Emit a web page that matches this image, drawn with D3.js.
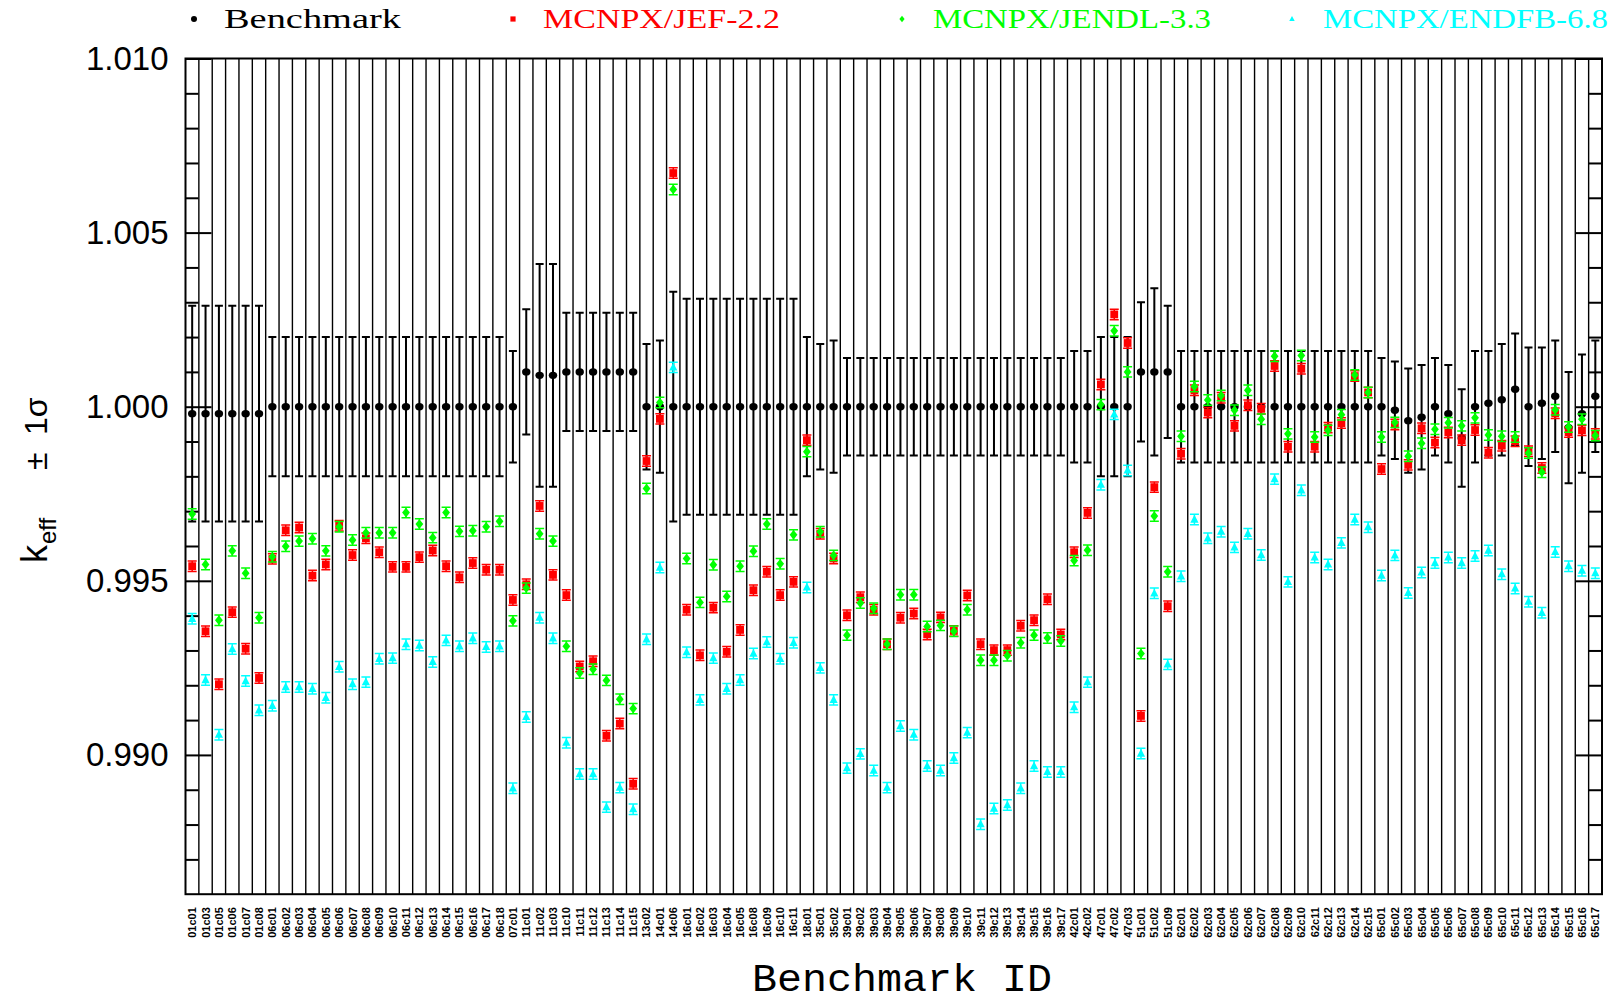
<!DOCTYPE html>
<html>
<head>
<meta charset="utf-8">
<script src="https://cdn.jsdelivr.net/npm/d3@7"></script>
<style>
body { margin: 0; background: #fff; }
</style>
</head>
<body>
<div id="chart"></div>
<script>
// benchmark IDs (x categories)
var ids = [
 "01c01","01c03","01c05","01c06","01c07","01c08",
 "06c01","06c02","06c03","06c04","06c05","06c06","06c07","06c08","06c09","06c10","06c11","06c12","06c13","06c14","06c15","06c16","06c17","06c18",
 "07c01",
 "11c01","11c02","11c03","11c10","11c11","11c12","11c13","11c14","11c15",
 "13c02","14c01","14c06",
 "16c01","16c02","16c03","16c04","16c05","16c08","16c09","16c10","16c11",
 "18c01","35c01","35c02",
 "39c01","39c02","39c03","39c04","39c05","39c06","39c07","39c08","39c09","39c10","39c11","39c12","39c13","39c14","39c15","39c16","39c17",
 "42c01","42c02","47c01","47c02","47c03","51c01","51c02","51c09",
 "62c01","62c02","62c03","62c04","62c05","62c06","62c07","62c08","62c09","62c10","62c11","62c12","62c13","62c14","62c15",
 "65c01","65c02","65c03","65c04","65c05","65c06","65c07","65c08","65c09","65c10","65c11","65c12","65c13","65c14","65c15","65c16","65c17"
];

var benchVal = [
 0.9998,0.9998,0.9998,0.9998,0.9998,0.9998,
 1.0000,1.0000,1.0000,1.0000,1.0000,1.0000,1.0000,1.0000,1.0000,1.0000,1.0000,1.0000,1.0000,1.0000,1.0000,1.0000,1.0000,1.0000,
 1.0000,
 1.0010,1.0009,1.0009,1.0010,1.0010,1.0010,1.0010,1.0010,1.0010,
 1.0000,1.0000,1.0000,
 1.0000,1.0000,1.0000,1.0000,1.0000,1.0000,1.0000,1.0000,1.0000,
 1.0000,1.0000,1.0000,
 1.0000,1.0000,1.0000,1.0000,1.0000,1.0000,1.0000,1.0000,1.0000,1.0000,1.0000,1.0000,1.0000,1.0000,1.0000,1.0000,1.0000,
 1.0000,1.0000,1.0000,1.0000,1.0000,1.0010,1.0010,1.0010,
 1.0000,1.0000,1.0000,1.0000,1.0000,1.0000,1.0000,1.0000,1.0000,1.0000,1.0000,1.0000,1.0000,1.0000,1.0000,
 1.0000,0.9999,0.9996,0.9997,1.0000,0.9998,0.9991,1.0000,1.0001,1.0002,1.0005,1.0000,1.0001,1.0003,0.9994,0.9998,1.0003
];

var benchSig = [
 0.0031,0.0031,0.0031,0.0031,0.0031,0.0031,
 0.0020,0.0020,0.0020,0.0020,0.0020,0.0020,0.0020,0.0020,0.0020,0.0020,0.0020,0.0020,0.0020,0.0020,0.0020,0.0020,0.0020,0.0020,
 0.0016,
 0.0018,0.0032,0.0032,0.0017,0.0017,0.0017,0.0017,0.0017,0.0017,
 0.0018,0.0019,0.0033,
 0.0031,0.0031,0.0031,0.0031,0.0031,0.0031,0.0031,0.0031,0.0031,
 0.0020,0.0018,0.0019,
 0.0014,0.0014,0.0014,0.0014,0.0014,0.0014,0.0014,0.0014,0.0014,0.0014,0.0014,0.0014,0.0014,0.0014,0.0014,0.0014,0.0014,
 0.0016,0.0016,0.0020,0.0020,0.0020,0.0020,0.0024,0.0019,
 0.0016,0.0016,0.0016,0.0016,0.0016,0.0016,0.0016,0.0016,0.0016,0.0016,0.0016,0.0016,0.0016,0.0016,0.0016,
 0.0014,0.0014,0.0015,0.0015,0.0014,0.0014,0.0014,0.0016,0.0015,0.0016,0.0016,0.0017,0.0016,0.0016,0.0016,0.0017,0.0016
];

var jef = [
 0.99542,0.99355,0.99203,0.99410,0.99305,0.99221,
 0.99563,0.99645,0.99653,0.99515,0.99547,0.99658,0.99574,0.99622,0.99582,0.99540,0.99540,0.99568,0.99587,0.99542,0.99510,0.99551,0.99532,0.99532,
 0.99445,
 0.99490,0.99715,0.99517,0.99459,0.99254,0.99269,0.99055,0.99090,0.98917,
 0.99844,0.99965,1.00671,
 0.99417,0.99286,0.99423,0.99296,0.99359,0.99473,0.99526,0.99459,0.99497,
 0.99904,0.99635,0.99564,
 0.99401,0.99453,0.99417,0.99318,0.99394,0.99406,0.99346,0.99395,0.99356,0.99458,0.99318,0.99301,0.99301,0.99371,0.99387,0.99447,0.99346,
 0.99582,0.99695,1.00064,1.00265,1.00183,0.99112,0.99769,0.99427,
 0.99865,1.00047,0.99983,1.00026,0.99945,1.00004,0.99994,1.00117,0.99885,1.00109,0.99885,0.99940,0.99953,1.00088,1.00041,
 0.99821,0.99949,0.99833,0.99938,0.99897,0.99926,0.99904,0.99933,0.99868,0.99888,0.99901,0.99872,0.99824,0.99981,0.99927,0.99932,0.99922
];

var jendl = [
 0.99692,0.99547,0.99387,0.99586,0.99522,0.99394,
 0.99569,0.99599,0.99614,0.99621,0.99586,0.99655,0.99617,0.99638,0.99638,0.99638,0.99696,0.99663,0.99624,0.99696,0.99642,0.99644,0.99655,0.99671,
 0.99385,
 0.99479,0.99635,0.99614,0.99312,0.99235,0.99246,0.99214,0.99160,0.99133,
 0.99765,1.00012,1.00624,
 0.99564,0.99438,0.99546,0.99455,0.99542,0.99585,0.99663,0.99549,0.99632,
 0.99871,0.99641,0.99573,
 0.99344,0.99436,0.99421,0.99318,0.99460,0.99460,0.99369,0.99372,0.99355,0.99417,0.99272,0.99272,0.99285,0.99322,0.99344,0.99336,0.99327,
 0.99558,0.99588,1.00006,1.00218,1.00100,0.99291,0.99686,0.99526,
 0.99915,1.00058,1.00019,1.00032,0.99990,1.00047,0.99964,1.00145,0.99922,1.00147,0.99913,0.99932,0.99977,1.00091,1.00041,
 0.99913,0.99955,0.99858,0.99895,0.99935,0.99954,0.99945,0.99968,0.99919,0.99915,0.99913,0.99867,0.99812,0.99991,0.99942,0.99964,0.99917
];

var endf = [
 0.99391,0.99215,0.99058,0.99304,0.99212,0.99128,
 0.99141,0.99195,0.99195,0.99190,0.99164,0.99253,0.99203,0.99209,0.99276,0.99278,0.99318,0.99314,0.99267,0.99329,0.99312,0.99335,0.99310,0.99312,
 0.98904,
 0.99109,0.99394,0.99335,0.99035,0.98945,0.98945,0.98850,0.98906,0.98844,
 0.99332,0.99538,1.00113,
 0.99295,0.99158,0.99278,0.99190,0.99215,0.99291,0.99324,0.99276,0.99322,
 0.99481,0.99250,0.99158,
 0.98962,0.99003,0.98955,0.98906,0.99083,0.99058,0.98968,0.98955,0.98991,0.99064,0.98801,0.98846,0.98856,0.98904,0.98968,0.98951,0.98951,
 0.99137,0.99209,0.99776,0.99978,0.99817,0.99004,0.99464,0.99260,
 0.99513,0.99676,0.99622,0.99641,0.99596,0.99635,0.99574,0.99792,0.99497,0.99760,0.99567,0.99547,0.99609,0.99676,0.99654,
 0.99515,0.99573,0.99465,0.99524,0.99551,0.99567,0.99551,0.99571,0.99587,0.99519,0.99478,0.99440,0.99408,0.99583,0.99542,0.99529,0.99522
];

var mcSig = 0.00015;   // MC statistical error, same for every calc
var majorTicks = [0.990, 0.995, 1.000, 1.005, 1.010];
var minorTicks = [0.987,0.988,0.989,0.991,0.992,0.993,0.994,0.996,0.997,0.998,0.999,1.001,1.002,1.003,1.004,1.006,1.007,1.008,1.009];

var W = 1620, H = 1004;
var pL = 185.5, pR = 1602, pT = 58.5, pB = 894.2;

var svg = d3.select("#chart").append("svg")
  .attr("width", W).attr("height", H)
  .style("font-family", "'Liberation Sans', Arial, sans-serif");

var x = d3.scaleBand().domain(ids).range([pL, pR]).paddingInner(0).paddingOuter(0);
var y = d3.scaleLinear().domain([0.986, 1.010]).range([pB, pT]);
var cx = function (id) { return x(id) + x.bandwidth() / 2; };

// vertical separators between benchmarks
svg.append("g").selectAll("line")
  .data(ids.slice(1))
  .enter().append("line")
  .attr("x1", function (d) { return x(d); })
  .attr("x2", function (d) { return x(d); })
  .attr("y1", pT).attr("y2", pB)
  .attr("stroke", "#000").attr("stroke-width", 1.4);

// frame
svg.append("rect")
  .attr("x", pL).attr("y", pT)
  .attr("width", pR - pL).attr("height", pB - pT)
  .attr("fill", "none").attr("stroke", "#000").attr("stroke-width", 2);

// y ticks, inward on both sides
function tickAxis(axis, size, vals) {
  return axis.tickValues(vals).tickSize(size).tickFormat("");
}
var gl1 = svg.append("g").attr("transform", "translate(" + pL + ",0)").call(tickAxis(d3.axisRight(y), 13, minorTicks));
var gl2 = svg.append("g").attr("transform", "translate(" + pL + ",0)").call(tickAxis(d3.axisRight(y), 26, majorTicks));
var gr1 = svg.append("g").attr("transform", "translate(" + pR + ",0)").call(tickAxis(d3.axisLeft(y), 13, minorTicks));
var gr2 = svg.append("g").attr("transform", "translate(" + pR + ",0)").call(tickAxis(d3.axisLeft(y), 26, majorTicks));
[gl1, gl2, gr1, gr2].forEach(function (g) {
  g.select(".domain").remove();
  g.selectAll("line").attr("stroke-width", 2);
});

var ylab = svg.append("g").attr("transform", "translate(" + pL + ",0)")
  .call(d3.axisLeft(y).tickValues(majorTicks).tickSize(0).tickPadding(17).tickFormat(d3.format(".3f")));
ylab.select(".domain").remove();
ylab.selectAll("text").style("font-size", "33px").style("font-family", "'Liberation Sans', Arial, sans-serif").attr("fill", "#000");

// x tick labels
var xlab = svg.append("g").attr("transform", "translate(0," + pB + ")")
  .call(d3.axisBottom(x).tickSize(0));
xlab.select(".domain").remove();
xlab.selectAll("text")
  .attr("transform", "rotate(-90)")
  .attr("x", -13).attr("y", 0).attr("dy", "0.36em")
  .style("text-anchor", "end")
  .style("font-size", "11px").style("font-weight", "bold")
  .style("font-family", "'Liberation Sans', Arial, sans-serif")
  .attr("fill", "#000");

// benchmark error bars
var bench = ids.map(function (id, i) { return { id: id, v: benchVal[i], s: benchSig[i] }; });
var gb = svg.append("g");
gb.selectAll(".bbar").data(bench).enter().append("path")
  .attr("d", function (d) {
    var c = cx(d.id), t = y(d.v + d.s), b = y(d.v - d.s);
    return "M" + (c - 4) + "," + t + "H" + (c + 4) + "M" + c + "," + t + "V" + b + "M" + (c - 4) + "," + b + "H" + (c + 4);
  })
  .attr("stroke", "#000").attr("stroke-width", 2).attr("fill", "none");
gb.selectAll("ellipse").data(bench).enter().append("ellipse")
  .attr("cx", function (d) { return cx(d.id); })
  .attr("cy", function (d) { return y(d.v); })
  .attr("rx", 4.2).attr("ry", 3.7)
  .attr("fill", "#000");

// calculated series
var series = [
  { name: "MCNPX/JEF-2.2", vals: jef, color: "#ff0000", shape: "square" },
  { name: "MCNPX/JENDL-3.3", vals: jendl, color: "#00ff00", shape: "diamond" },
  { name: "MCNPX/ENDFB-6.8", vals: endf, color: "#00ffff", shape: "triangle" }
];

function marker(shape, s) {
  if (shape == "square") return "M" + (-s) + "," + (-s) + "H" + s + "V" + s + "H" + (-s) + "Z";
  if (shape == "diamond") return "M0," + (-s * 1.25) + "L" + s + ",0L0," + (s * 1.25) + "L" + (-s) + ",0Z";
  return "M0," + (-s * 1.2) + "L" + (s * 1.05) + "," + (s * 0.8) + "H" + (-s * 1.05) + "Z";
}

series.forEach(function (sr) {
  var pts = ids.map(function (id, i) { return { id: id, v: sr.vals[i] }; });
  var g = svg.append("g");
  g.selectAll("path.err").data(pts).enter().append("path")
    .attr("class", "err")
    .attr("d", function (d) {
      var c = cx(d.id), t = y(d.v + mcSig), b = y(d.v - mcSig);
      return "M" + (c - 4.5) + "," + t + "H" + (c + 4.5) + "M" + c + "," + t + "V" + b + "M" + (c - 4.5) + "," + b + "H" + (c + 4.5);
    })
    .attr("stroke", sr.color).attr("stroke-width", 1.5).attr("fill", "none");
  g.selectAll("path.mk").data(pts).enter().append("path")
    .attr("class", "mk")
    .attr("transform", function (d) { return "translate(" + cx(d.id) + "," + y(d.v) + ")"; })
    .attr("d", marker(sr.shape, 3.9))
    .attr("fill", sr.color);
});

// legend
var legend = [
  { name: "Benchmark", color: "#000", shape: "dot", mx: 194, tx: 224, tw: 177 },
  { name: series[0].name, color: series[0].color, shape: "square", mx: 513, tx: 543, tw: 237 },
  { name: series[1].name, color: series[1].color, shape: "diamond", mx: 902, tx: 933, tw: 278 },
  { name: series[2].name, color: series[2].color, shape: "triangle", mx: 1292, tx: 1323, tw: 285 }
];
var lg = svg.append("g");
legend.forEach(function (l) {
  if (l.shape == "dot") {
    lg.append("circle").attr("cx", l.mx).attr("cy", 19).attr("r", 3).attr("fill", l.color);
  } else {
    lg.append("path").attr("transform", "translate(" + l.mx + ",19)").attr("d", marker(l.shape, 2.6)).attr("fill", l.color);
  }
  lg.append("text")
    .attr("x", l.tx).attr("y", 28)
    .attr("textLength", l.tw).attr("lengthAdjust", "spacingAndGlyphs")
    .style("font-family", "'Liberation Serif', 'DejaVu Serif', serif")
    .style("font-size", "28px")
    .attr("fill", l.color)
    .text(l.name);
});

// axis titles
svg.append("text")
  .attr("x", 902).attr("y", 991)
  .attr("text-anchor", "middle")
  .attr("textLength", 300).attr("lengthAdjust", "spacingAndGlyphs")
  .style("font-family", "'Liberation Mono', 'DejaVu Sans Mono', monospace")
  .style("font-size", "38px")
  .text("Benchmark ID");

var yt = svg.append("g").attr("transform", "translate(47,0) rotate(-90)");
yt.append("text").attr("x", -563).attr("y", 0).style("font-size", "36px").text("k");
yt.append("text").attr("x", -544).attr("y", 9).style("font-size", "24px").text("eff");
yt.append("text").attr("x", -470).attr("y", 0).style("font-size", "32px").text("±");
yt.append("text").attr("x", -435).attr("y", 0).style("font-size", "32px").text("1σ");
</script>
</body>
</html>
